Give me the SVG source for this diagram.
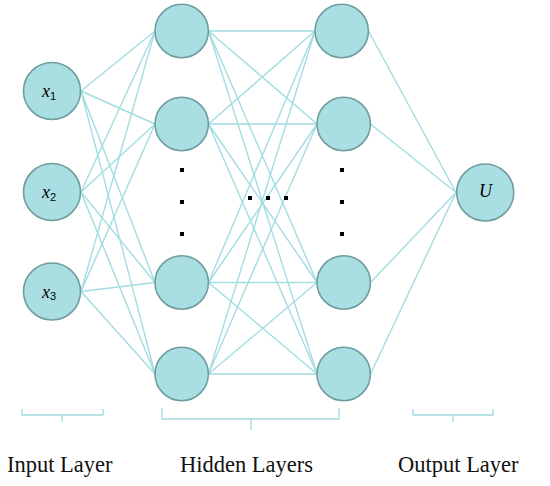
<svg xmlns="http://www.w3.org/2000/svg" width="550" height="486" viewBox="0 0 550 486">
<style>
.node{fill:#a9dfe3;stroke:#6f9c9e;stroke-width:1.6}
.edge{stroke:#a2dde2;stroke-width:1.4;fill:none}
.brace{stroke:#a2dde2;stroke-width:1.4;fill:none}
.dot{fill:#000}
.var{font-family:"Liberation Serif",serif;font-style:italic;font-size:18px;fill:#000}
.sub{font-family:"Liberation Sans",sans-serif;font-style:normal;font-size:11px}
.lbl{font-family:"Liberation Serif",serif;font-size:22.5px;fill:#111}
</style>
<rect width="550" height="486" fill="#fff"/>
<g id="connectors">
<!-- input to hidden1 -->
<path class="edge" d="M81,91L155,31M81,91L155,124M81,91L155,282.5M81,91L155,374"/>
<path class="edge" d="M81,192L155,31M81,192L155,124M81,192L155,282.5M81,192L155,374"/>
<path class="edge" d="M81,291.5L155,31M81,291.5L155,124M81,291.5L155,282.5M81,291.5L155,374"/>
<!-- hidden1 to hidden2 -->
<path class="edge" d="M208.5,31L315,31M208.5,31L317,124M208.5,31L317,282.5M208.5,31L317,374"/>
<path class="edge" d="M208.5,124L315,31M208.5,124L317,124M208.5,124L317,282.5M208.5,124L317,374"/>
<path class="edge" d="M208.5,282.5L315,31M208.5,282.5L317,124M208.5,282.5L317,282.5M208.5,282.5L317,374"/>
<path class="edge" d="M208.5,374L315,31M208.5,374L317,124M208.5,374L317,282.5M208.5,374L317,374"/>
<!-- hidden2 to output -->
<path class="edge" d="M368.5,31L456,192.5M370.5,124L456,192.5M370.5,282.5L456,192.5M370.5,374L456,192.5"/>
</g>
<g id="input-x1"><circle class="node" cx="52" cy="91" r="28.5"/><text class="var" x="42" y="97">x<tspan class="sub" dy="2.5">1</tspan></text></g>
<g id="input-x2"><circle class="node" cx="52" cy="192" r="28.5"/><text class="var" x="42" y="198">x<tspan class="sub" dy="2.5">2</tspan></text></g>
<g id="input-x3"><circle class="node" cx="52" cy="291.5" r="28.5"/><text class="var" x="42" y="297.5">x<tspan class="sub" dy="2.5">3</tspan></text></g>
<g id="hidden1-1"><circle class="node" cx="181.7" cy="31" r="26.7"/></g>
<g id="hidden1-2"><circle class="node" cx="181.7" cy="124" r="26.7"/></g>
<g id="hidden1-3"><circle class="node" cx="181.7" cy="282.5" r="26.7"/></g>
<g id="hidden1-4"><circle class="node" cx="181.7" cy="374" r="26.7"/></g>
<g id="hidden2-1"><circle class="node" cx="341.7" cy="31" r="26.7"/></g>
<g id="hidden2-2"><circle class="node" cx="343.7" cy="124" r="26.7"/></g>
<g id="hidden2-3"><circle class="node" cx="343.7" cy="282.5" r="26.7"/></g>
<g id="hidden2-4"><circle class="node" cx="343.7" cy="374" r="26.7"/></g>
<g id="output-U"><circle class="node" cx="485.2" cy="192.5" r="28.5"/><text class="var" x="485.5" y="197" font-size="20" text-anchor="middle">U</text></g>
<g id="dots">
<rect class="dot" x="180" y="168" width="4" height="4"/>
<rect class="dot" x="180" y="200" width="4" height="4"/>
<rect class="dot" x="180" y="232" width="4" height="4"/>
<rect class="dot" x="340" y="168" width="4" height="4"/>
<rect class="dot" x="340" y="200" width="4" height="4"/>
<rect class="dot" x="340" y="232" width="4" height="4"/>
<rect class="dot" x="248" y="196" width="4" height="4"/>
<rect class="dot" x="266" y="196" width="4" height="4"/>
<rect class="dot" x="284" y="196" width="4" height="4"/>
</g>
<g id="braces">
<path class="brace" d="M22,409V415H103V409M62,415V422"/>
<path class="brace" d="M162,408V419H339V408M251,419V430"/>
<path class="brace" d="M413,409V415H493V409M453,415V422"/>
</g>
<g id="labels">
<text class="lbl" x="7" y="472">Input Layer</text>
<text class="lbl" x="180" y="472">Hidden Layers</text>
<text class="lbl" x="398" y="472">Output Layer</text>
</g>
</svg>
